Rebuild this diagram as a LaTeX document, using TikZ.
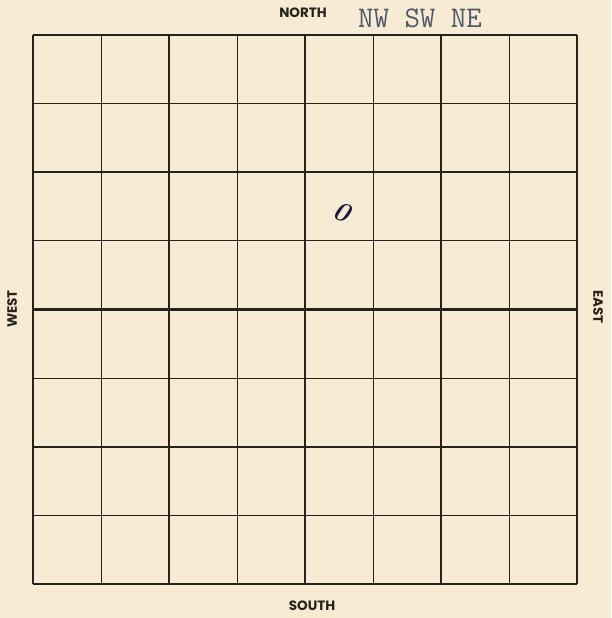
\documentclass[tikz,border=0pt]{standalone}
\usepackage{fontspec}
\setsansfont{Poppins}
\usepackage{xcolor}
\definecolor{paper}{RGB}{248,235,212}
\definecolor{ink}{RGB}{38,34,30}
\definecolor{typed}{RGB}{80,88,108}
\definecolor{pen}{RGB}{24,26,66}

\begin{document}
\begin{tikzpicture}[
  x=1pt, y=-1pt,
  thin line/.style={draw=ink, line width=0.9pt},
  thick line/.style={draw=ink, line width=2.2pt},
  side/.style={font=\sffamily\bfseries\fontsize{13.5}{13.5}\selectfont, text=ink, inner sep=0pt},
  >=latex
]
\fill[paper] (0,0) rectangle (611,618);
\useasboundingbox (0,0) rectangle (611,618);

% cells
\foreach \i in {1,3,5,7} {
  \draw[thin line] (33+68*\i,35) -- (33+68*\i,584);
  \draw[thin line] (33,35+68.625*\i) -- (577,35+68.625*\i);
}
% sections
\foreach \i in {0,2,4,6,8} {
  \draw[thick line] (33+68*\i,35) -- (33+68*\i,584);
  \draw[thick line] (33,35+68.625*\i) -- (577,35+68.625*\i);
}

\node[side] (north) at (303,13) {NORTH};
\node[side] (south) at (312,606) {SOUTH};
\node[side, rotate=90] (west) at (12,309) {WEST};
\node[side, rotate=-90] (east) at (598,307) {EAST};
\node[font=\ttfamily\fontsize{30}{30}\selectfont, text=typed, inner sep=0pt] (tracts) at (420,18) {NW SW NE};
\node[font=\bfseries\itshape\fontsize{27}{27}\selectfont, text=pen, inner sep=0pt, rotate=-20] (mark) at (342,212) {0};
\end{tikzpicture}
\end{document}
